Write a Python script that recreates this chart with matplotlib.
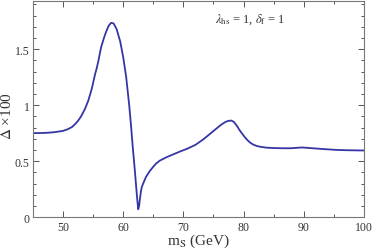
import matplotlib
matplotlib.use('Agg')
import matplotlib.pyplot as plt
from matplotlib.ticker import MultipleLocator

plt.rcParams['font.family'] = 'Liberation Serif'
plt.rcParams['mathtext.fontset'] = 'stix'

# values
ms = [45, 47, 48.5, 50, 50.8, 51.5, 52, 52.5, 53, 53.6, 54.2, 54.8, 55.3, 55.6,
      55.9, 56.3, 56.8, 57.2, 57.6, 58, 58.4, 58.9, 59.5, 60, 60.5, 61, 61.3,
      61.6, 61.9, 62.1, 62.3, 62.5, 62.65, 62.8, 62.95, 63.1, 63.4, 63.8, 64.4,
      65.0, 65.5, 66.1, 67.2, 68.3, 69.4, 70.6, 72, 73.2, 73.9, 74.8, 75.7, 76.4,
      77.0, 77.5, 78, 78.4, 78.9, 79.3, 79.7, 80.2, 80.6, 81.1, 81.6, 82.2, 83,
      83.9, 85, 86.5, 87.8, 89.7, 91.5, 93.5, 95.5, 97.5, 100]
delta = [0.75, 0.752, 0.758, 0.77, 0.785, 0.805, 0.83, 0.86, 0.90, 0.96, 1.04,
         1.15, 1.27, 1.33, 1.40, 1.51, 1.60, 1.66, 1.71, 1.735, 1.73, 1.68,
         1.57, 1.43, 1.25, 1.00, 0.82, 0.62, 0.44, 0.31, 0.18, 0.07, 0.10, 0.17,
         0.23, 0.27, 0.31, 0.36, 0.41, 0.45, 0.48, 0.505, 0.535, 0.56, 0.585,
         0.61, 0.645, 0.69, 0.72, 0.76, 0.80, 0.83, 0.85, 0.86, 0.862, 0.85,
         0.815, 0.78, 0.75, 0.715, 0.69, 0.665, 0.648, 0.635, 0.626, 0.62,
         0.617, 0.615, 0.615, 0.622, 0.615, 0.607, 0.60, 0.597, 0.595]
xticks = [50, 60, 70, 80, 90, 100]
yticks = [0, 0.5, 1, 1.5]
yticklabels = ['0', '0.5', '1', '1.5']

fig = plt.figure(figsize=(3.74, 2.51), dpi=100)
ax = fig.add_axes([0.088, 0.131, 0.885, 0.861])
ax.plot(ms, delta, color='#3535a5', lw=1.3)

ax.set_xlim(45, 100)
ax.set_ylim(0, 1.93)
ax.set_xticks(xticks)
ax.set_yticks(yticks)
ax.set_yticklabels(yticklabels)
ax.xaxis.set_minor_locator(MultipleLocator(5))
ax.yaxis.set_minor_locator(MultipleLocator(0.1))
ax.tick_params(which='both', direction='in', top=True, right=True,
               labelsize=8.5, colors='#555555', labelcolor='#333333', width=0.7)
ax.tick_params(which='major', length=4, pad=2.5)
ax.tick_params(which='minor', length=2)
for s in ax.spines.values():
    s.set_color('#777777')
    s.set_linewidth(0.8)

ax.set_xlabel('m$_\\mathrm{S}$ (GeV)', fontsize=11, color='#333333')
ax.xaxis.set_label_coords(0.5, -0.068, transform=ax.transAxes)
ax.xaxis.label.set_va('top')
ax.set_ylabel('$\\Delta$ ×100', fontsize=11, color='#333333')
ax.yaxis.set_label_coords(-0.056, 0.47)
ax.text(75.3, 1.77, '$\\lambda_{\\mathrm{hs}}$ = 1, $\\delta_{\\mathrm{f}}$ = 1',
        fontsize=9, color='#333333', va='center')

fig.savefig('out.png', dpi=100)
